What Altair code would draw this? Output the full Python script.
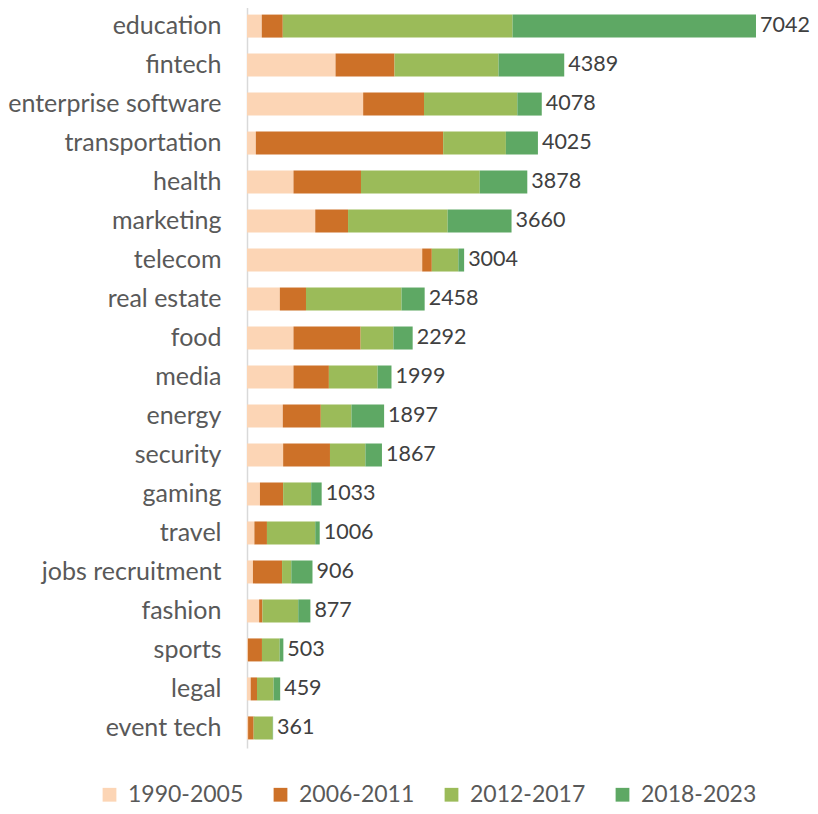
import altair as alt
import pandas as pd

categories = ["education", "fintech", "enterprise software", "transportation", "health",
              "marketing", "telecom", "real estate", "food", "media", "energy", "security",
              "gaming", "travel", "jobs recruitment", "fashion", "sports", "legal", "event tech"]
periods = ["1990-2005", "2006-2011", "2012-2017", "2018-2023"]
v_1990_2005 = [204, 1225, 1607, 122, 643, 944, 2424, 454, 643, 643, 495, 500, 179, 102, 82, 168, 13, 51, 15]
v_2006_2011 = [291, 816, 842, 2592, 934, 454, 133, 362, 929, 490, 526, 648, 321, 174, 403, 46, 194, 87, 77]
v_2012_2017 = [3179, 1439, 1291, 868, 1643, 1378, 367, 1322, 454, 674, 424, 490, 388, 668, 128, 495, 245, 230, 264]
v_2018_2023 = [3368, 909, 338, 443, 658, 884, 80, 320, 266, 192, 452, 229, 145, 62, 293, 168, 51, 91, 5]
totals = [7042, 4389, 4078, 4025, 3878, 3660, 3004, 2458, 2292, 1999, 1897, 1867, 1033, 1006, 906, 877, 503, 459, 361]
colors = ["#FCD5B5", "#CD7128", "#9BBB59", "#5EA864"]

series = [v_1990_2005, v_2006_2011, v_2012_2017, v_2018_2023]
rows = []
for p_i, (p, vals) in enumerate(zip(periods, series)):
    for c, v in zip(categories, vals):
        rows.append({"category": c, "period": p, "order": p_i, "value": v})
df = pd.DataFrame(rows)
tot = pd.DataFrame({"category": categories, "total": totals})

FONT = "Lato"
y = alt.Y("category:N", sort=categories,
          scale=alt.Scale(paddingInner=0.41, paddingOuter=0.22),
          axis=alt.Axis(title=None, ticks=False, labelPadding=26, labelFontSize=25,
                        labelLimit=400, labelColor="#595959", labelFont=FONT,
                        domainColor="#D9D9D9", domainWidth=1.5))
xscale = alt.Scale(domain=[0, 7471], nice=False)

bars = alt.Chart(df).mark_bar(size=23).encode(
    x=alt.X("value:Q", stack="zero", scale=xscale, axis=None),
    y=y,
    color=alt.Color("period:N", sort=periods,
                    scale=alt.Scale(domain=periods, range=colors),
                    legend=alt.Legend(title=None, orient="none", legendX=-149, legendY=777,
                                      direction="horizontal", symbolType="square",
                                      symbolSize=190, symbolStrokeWidth=0,
                                      labelFontSize=23, labelFont=FONT, labelColor="#595959",
                                      labelOffset=7, columnPadding=25)),
    order=alt.Order("order:Q"),
)

labels = alt.Chart(tot).mark_text(align="left", baseline="middle", dx=4, fontSize=21.5,
                                  font=FONT, color="#404040").encode(
    x=alt.X("total:Q", scale=xscale, axis=None),
    y=alt.Y("category:N", sort=categories),
    text=alt.Text("total:Q", format="d"),
)

chart = alt.layer(bars, labels).properties(
    width=540, height=742,
    padding={"left": 239, "top": -2, "right": 23, "bottom": 60},
    autosize=alt.AutoSizeParams(type="none"),
).configure_view(stroke=None)

chart.save("out.html", embed_options={"renderer": "svg", "actions": False})
